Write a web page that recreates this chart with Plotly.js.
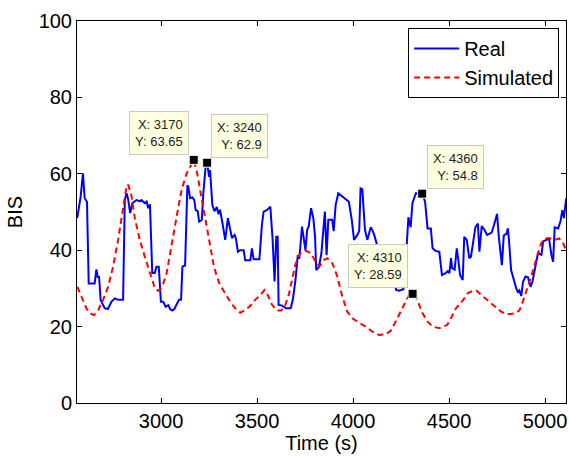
<!DOCTYPE html>
<html>
<head>
<meta charset="utf-8">
<script src="https://cdn.plot.ly/plotly-3.0.1.min.js"></script>
<style>html,body{margin:0;padding:0;background:#fff;}#chart{width:569px;height:457px;}</style>
</head>
<body>
<div id="chart"></div>
<script>
// Real BIS (blue)
var realTime = [2563,2581,2593,2602,2614,2623,2654,2663,2670,2677,2685,2706,2723,2741,2759,2776,2802,2811,2820,2828,2839,2850,2860,2872,2890,2898,2916,2925,2933,2942,2954,2967,2976,2988,2999,3011,3024,3038,3047,3058,3069,3081,3093,3104,3111,3125,3137,3142,3151,3163,3173,3180,3191,3198,3212,3220,3233,3240,3250,3255,3261,3267,3278,3290,3299,3307,3320,3334,3348,3359,3369,3383,3390,3400,3412,3430,3438,3465,3473,3482,3512,3525,3534,3551,3569,3581,3591,3600,3607,3612,3630,3651,3675,3686,3700,3712,3720,3734,3743,3752,3761,3769,3781,3793,3802,3808,3822,3835,3853,3862,3871,3891,3899,3909,3923,3944,3962,3978,3993,4005,4022,4032,4039,4048,4062,4074,4092,4100,4110,4127,4140,4165,4190,4205,4215,4224,4240,4262,4278,4288,4300,4309,4327,4360,4375,4388,4405,4414,4431,4449,4463,4480,4493,4502,4510,4516,4529,4540,4550,4557,4571,4579,4592,4605,4614,4627,4637,4650,4658,4670,4685,4698,4722,4734,4750,4759,4768,4775,4785,4799,4806,4812,4823,4841,4850,4858,4866,4876,4885,4898,4911,4924,4934,4946,4963,4981,4990,5007,5021,5033,5042,5050,5068,5080,5090,5098,5110];
var realBIS = [48.4,54,60.1,53.6,52.7,31.3,31.3,35,33,33,27,24.8,24.6,26.5,27.4,27,27,53.1,54.9,53.5,49.7,52.3,52.7,53.1,52.8,53.1,52.3,52.7,51,52,34,34,35.7,35.7,26.5,26.5,25.2,25.6,24.6,24.2,24.6,25.8,27,27,35.7,36,57,56.6,53.6,53.8,53.1,50.5,50.2,47.5,47.9,54.9,62.5,62.9,59.2,61,57.5,51.8,50.2,51.3,49.4,50.6,47,42.7,48.4,46,43.2,44,43,39.6,40,40,37.4,37.4,40.5,37.6,37.6,46.6,50.1,50.5,51.4,42.7,31.8,43.5,43.5,25.7,25.5,24.8,24.8,27,32.2,38.7,37.8,46.2,43.5,40,45.4,46.2,51,48.4,43.5,34.8,35.6,39.2,50.1,38.7,48,48,45,51.8,54.9,54.1,53.2,52.7,48,42.7,44,45,56.2,56,45.3,42.7,46,45.3,44,41,40.5,40,41,41,35,29.6,29.4,29.8,40,48.6,46,52.3,54.9,54.8,52.7,45.7,45.7,40.5,39.8,39.6,33.5,33.9,34.5,34,37.9,35.3,34.9,40.5,36.7,33.5,32.2,43.5,42.7,37.9,38.3,42.7,46,47,39.6,46.3,45.3,44,44.6,46.6,49.5,43.5,40,36.1,43.9,44.3,45.7,42.7,34.8,31.3,30,29.1,29.5,28,31.7,33.1,32.9,30.4,31.7,34.8,39.2,38.8,42.3,42.7,43,38.7,37,46,45.7,47.5,50.5,48.4,53.6];

// Simulated BIS (red dashed)
var simTime = [2564,2585,2611,2629,2651,2672,2698,2724,2750,2776,2802,2820,2828,2845,2863,2889,2915,2942,2968,2985,3006,3029,3055,3081,3107,3133,3160,3170,3186,3203,3220,3238,3255,3272,3290,3307,3334,3360,3386,3412,3438,3464,3490,3516,3539,3556,3578,3604,3627,3647,3665,3682,3699,3717,3734,3752,3778,3795,3813,3825,3848,3866,3892,3918,3944,3970,3996,4031,4066,4100,4135,4170,4196,4222,4248,4275,4291,4310,4327,4344,4362,4388,4414,4449,4470,4490,4510,4536,4571,4597,4623,4644,4667,4693,4719,4745,4771,4797,4823,4850,4867,4881,4893,4910,4928,4945,4963,4980,4998,5024,5050,5073,5094,5110];
var simBIS = [30.4,27.8,24.8,23.5,23,24.3,27,30.4,35.7,42.7,51.4,56.6,57.2,54.4,48.4,42.7,38.3,34,30,29.4,30.4,34,40.9,48.8,55.8,60.1,62.6,63.65,60.6,55.8,51.4,46.6,40.9,36.6,33.1,30.9,28.7,26.5,24.8,23.6,24.3,25.4,27,28.2,29.6,28.2,25.7,24.2,24.2,25.7,28.3,32.2,36.1,38.7,39.6,39.9,39.3,37.9,36.3,35.8,37.4,37.9,36.6,33.1,27.8,23.9,22.2,21,20,18.7,17.8,18,18.9,21.3,23.9,27,28.3,28.59,27.8,25.7,23.5,21.3,20,19.6,20,20.4,22.2,24.8,26.8,28.7,29.4,29.4,28.3,27.2,26.1,25.2,23.9,23.3,23.3,23.6,24.3,26.1,27.8,30.4,33.1,36.1,39.2,41.8,43.1,43.1,42.7,43.1,41.8,40];

// Data tips
var tipX = [3170, 3240, 4310, 4360];
var tipY = [63.65, 62.9, 28.59, 54.8];

var xTickVals = [3000, 3500, 4000, 4500, 5000];
var yTickVals = [0, 20, 40, 60, 80, 100];

var FONT = 'Liberation Sans, Arial, Helvetica, sans-serif';

var traces = [
  {x: realTime, y: realBIS, type: 'scatter', mode: 'lines', name: 'Real',
   line: {color: '#0000ff', width: 2}},
  {x: simTime, y: simBIS, type: 'scatter', mode: 'lines', name: 'Simulated',
   line: {color: '#ff0000', width: 2, dash: '6px,4px'}},
  {x: tipX, y: tipY, type: 'scatter', mode: 'markers', showlegend: false,
   marker: {symbol: 'square', color: '#000', size: 9, line: {color: '#ffffe1', width: 1}}}
];

var tipPlacement = [
  {xanchor: 'right', xshift: -5, yshift: 5},
  {xanchor: 'left', xshift: 4, yshift: 5},
  {xanchor: 'right', xshift: -5, yshift: 6},
  {xanchor: 'left', xshift: 5, yshift: 5}
];

var annotations = tipX.map(function (tx, i) {
  return {
    xref: 'x', yref: 'y', x: tx, y: tipY[i],
    text: 'X: ' + tx + '<br>Y: ' + tipY[i],
    showarrow: false, align: 'right',
    xanchor: tipPlacement[i].xanchor, yanchor: 'bottom',
    xshift: tipPlacement[i].xshift, yshift: tipPlacement[i].yshift,
    bgcolor: '#ffffe1', bordercolor: '#c8c8c8', borderwidth: 1, borderpad: 5,
    font: {family: FONT, size: 13, color: '#222'}
  };
});

var layout = {
  width: 569, height: 457,
  margin: {l: 77, r: 3, t: 21, b: 54},
  paper_bgcolor: '#fff', plot_bgcolor: '#fff',
  font: {family: FONT, size: 20, color: '#000'},
  showlegend: true,
  legend: {
    x: 0.986, y: 0.982, xanchor: 'right', yanchor: 'top',
    bgcolor: '#fff', bordercolor: '#000', borderwidth: 1,
    font: {family: FONT, size: 20, color: '#000'},
    tracegroupgap: 0, itemwidth: 45
  },
  xaxis: {
    range: [2562, 5109], tickvals: xTickVals,
    ticks: 'inside', ticklen: 5, tickcolor: '#000',
    showline: true, linecolor: '#000', linewidth: 1, mirror: 'ticks',
    showgrid: false, zeroline: false,
    tickfont: {family: FONT, size: 20, color: '#000'},
    title: {text: 'Time (s)', font: {family: FONT, size: 20, color: '#000'}, standoff: 2}
  },
  yaxis: {
    range: [0, 100], tickvals: yTickVals,
    ticks: 'inside', ticklen: 5, tickcolor: '#000',
    showline: true, linecolor: '#000', linewidth: 1, mirror: 'ticks',
    showgrid: false, zeroline: false,
    tickfont: {family: FONT, size: 20, color: '#000'},
    title: {text: 'BIS', font: {family: FONT, size: 20, color: '#000'}, standoff: 10}
  },
  annotations: annotations
};

Plotly.newPlot('chart', traces, layout, {displayModeBar: false, staticPlot: true});
</script>
</body>
</html>
